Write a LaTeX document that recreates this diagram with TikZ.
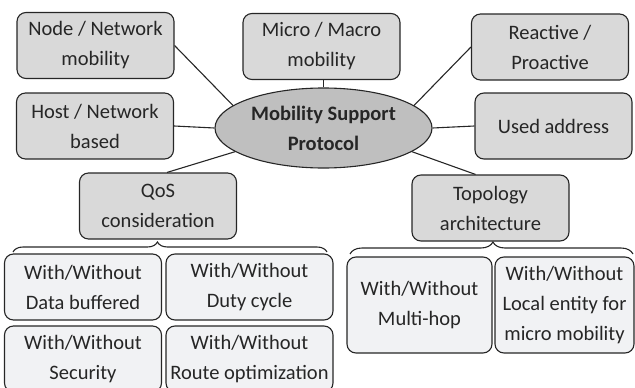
\documentclass[tikz,border=0pt]{standalone}
\usepackage{fontspec}
\setmainfont{Carlito}
\usepackage{xcolor}
\usetikzlibrary{shapes,positioning,calc,decorations.pathreplacing}

\definecolor{boxgray}{HTML}{D9D9D9}
\definecolor{hubgray}{HTML}{BFBFBF}
\definecolor{leafgray}{HTML}{F1F2F4}
\definecolor{edgegray}{HTML}{262626}

\begin{document}
\begin{tikzpicture}[x=1pt, y=-1pt,
    every node/.style={font=\fontsize{20.5}{30}\selectfont, align=center, text=edgegray},
    catbox/.style={draw=edgegray, line width=1.1pt, fill=boxgray, rounded corners=9pt,
        inner sep=0pt, minimum width=157pt, minimum height=66pt},
    leafbox/.style={catbox, fill=leafgray},
    hub/.style={draw=edgegray, line width=1.1pt, fill=hubgray, ellipse, inner sep=0pt,
        minimum width=217pt, minimum height=80pt, font=\fontsize{20.5}{30}\selectfont\bfseries},
    link/.style={draw=edgegray, line width=1.1pt},
    bracelink/.style={link, decorate, decoration={brace, amplitude=10pt}}]
    \useasboundingbox (0,0) rectangle (635,388);

    % Hub
    \node [hub] (msp) at (323.5, 128) {Mobility Support\\Protocol};

    % Categories
    \node [catbox] (nodemob) at (95.5, 45.5) {Node / Network\\mobility};
    \node [catbox] (hostnet) at (95, 126) {Host / Network\\based};
    \node [catbox] (micromac) at (321.5, 46.5) {Micro / Macro\\mobility};
    \node [catbox] (reactive) at (550, 47) {Reactive /\\Proactive};
    \node [catbox] (usedaddr) at (553.5, 126) {Used address};
    \node [catbox] (qos) at (158, 206) {QoS\\consideration};
    \node [catbox] (topo) at (490.5, 208) {Topology\\architecture};

    % Links to hub
    \draw [link] (nodemob.east) -- (msp.166);
    \draw [link] (hostnet.east) -- (msp.west);
    \draw [link] (qos.75) -- (msp.195);
    \draw [link] (msp.north) -- (msp.north |- micromac.south);
    \draw [link] (reactive.west) -- (msp.14);
    \draw [link] (usedaddr.west) -- (msp.east);
    \draw [link] (topo.114) -- (msp.-15);

    % QoS options
    \node [leafbox] (databuf) at (83, 287) {With/Without\\Data buffered};
    \node [leafbox, minimum width=167pt] (dutycyc) at (249.5, 287) {With/Without\\Duty cycle};
    \node [leafbox] (secur) at (83, 359) {With/Without\\Security};
    \node [leafbox, minimum width=167pt] (routeopt) at (249.5, 359) {With/Without\\Route optimization};
    \coordinate (qosleft) at (13, 252);
    \coordinate (qosright) at (327, 252);
    \draw [bracelink, decoration={aspect=0.46}] (qosleft) -- (qosright);

    % Topology options
    \node [leafbox, minimum width=145pt, minimum height=96pt] (multihop) at (419.5, 305) {With/Without\\Multi-hop};
    \node [leafbox, minimum width=139pt, minimum height=96pt] (localent) at (564.5, 305) {With/Without\\Local entity for\\micro mobility};
    \coordinate (topoleft) at (350, 254);
    \coordinate (toporight) at (633, 254);
    \draw [bracelink, decoration={amplitude=12pt, aspect=0.505}] (topoleft) -- (toporight);
\end{tikzpicture}
\end{document}
